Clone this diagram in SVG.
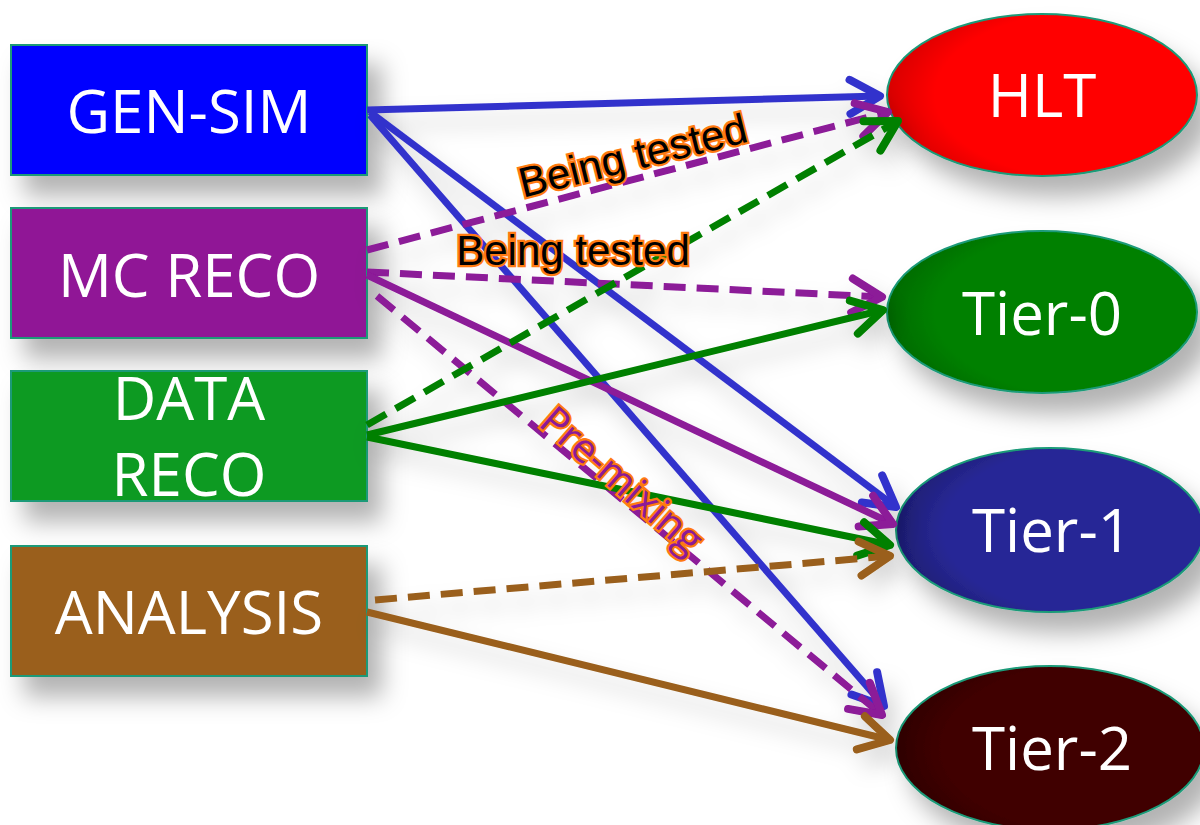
<svg xmlns="http://www.w3.org/2000/svg" width="1200" height="825" viewBox="0 0 1200 825">
  <defs>
    <style>
      .box { stroke: #1a9a78; stroke-width: 2; }
      .oval { stroke: #1a9a78; stroke-width: 2; }
      .lbl { font-family: "Open Sans", "Noto Sans", sans-serif; font-size: 60px; fill: #ffffff; text-anchor: middle; }
      .edge { fill: none; stroke-width: 7; }
      .dash { stroke-dasharray: 22 11; }
      .blue { stroke: #3333cc; }
      .purple { stroke: #8c1a98; }
      .green { stroke: #008000; }
      .brown { stroke: #9a5f1c; }
      .note { font-family: "Liberation Sans", Arial, sans-serif; font-size: 42px; fill: #000000; stroke: #ff7a10; stroke-width: 4.5; paint-order: stroke; text-anchor: middle; }
      .mix { font-family: "Open Sans", "Noto Sans", sans-serif; font-size: 40px; fill: #8c1a98; stroke: #ff7a10; stroke-width: 4.5; paint-order: stroke; text-anchor: middle; }
    </style>
    <filter id="shadow" x="-20%" y="-20%" width="150%" height="170%">
      <feGaussianBlur in="SourceAlpha" stdDeviation="12"/>
      <feOffset dx="14" dy="20" result="b"/>
      <feFlood flood-color="#000" flood-opacity="0.3"/>
      <feComposite in2="b" operator="in"/>
      <feMerge><feMergeNode/><feMergeNode in="SourceGraphic"/></feMerge>
    </filter>
    <filter id="lineshadow" x="-10%" y="-10%" width="120%" height="130%">
      <feGaussianBlur in="SourceAlpha" stdDeviation="11"/>
      <feOffset dx="8" dy="14" result="b"/>
      <feFlood flood-color="#000" flood-opacity="0.18"/>
      <feComposite in2="b" operator="in"/>
      <feMerge><feMergeNode/><feMergeNode in="SourceGraphic"/></feMerge>
    </filter>
    <!-- ellipse fills darken towards the left rim -->
    <radialGradient id="gRed" cx="0.68" cy="0.5" r="0.7">
      <stop offset="0.75" stop-color="#ff0000"/><stop offset="1" stop-color="#d40000"/>
    </radialGradient>
    <radialGradient id="gGreen" cx="0.68" cy="0.5" r="0.7">
      <stop offset="0.75" stop-color="#008000"/><stop offset="1" stop-color="#006800"/>
    </radialGradient>
    <radialGradient id="gNavy" cx="0.68" cy="0.5" r="0.7">
      <stop offset="0.75" stop-color="#282896"/><stop offset="1" stop-color="#1c1c70"/>
    </radialGradient>
    <radialGradient id="gMaroon" cx="0.68" cy="0.5" r="0.7">
      <stop offset="0.75" stop-color="#400000"/><stop offset="1" stop-color="#2e0000"/>
    </radialGradient>
    <marker id="aBlue" markerUnits="userSpaceOnUse" viewBox="-40 -25 48 50" refX="0" refY="0" markerWidth="48" markerHeight="50" orient="auto">
      <path d="M-30,-17 L0,0 L-30,17" fill="none" stroke="#3333cc" stroke-width="8" stroke-linecap="round" stroke-linejoin="round"/>
    </marker>
    <marker id="aPurple" markerUnits="userSpaceOnUse" viewBox="-40 -25 48 50" refX="0" refY="0" markerWidth="48" markerHeight="50" orient="auto">
      <path d="M-30,-17 L0,0 L-30,17" fill="none" stroke="#8c1a98" stroke-width="8" stroke-linecap="round" stroke-linejoin="round"/>
    </marker>
    <marker id="aGreen" markerUnits="userSpaceOnUse" viewBox="-40 -25 48 50" refX="0" refY="0" markerWidth="48" markerHeight="50" orient="auto">
      <path d="M-30,-17 L0,0 L-30,17" fill="none" stroke="#008000" stroke-width="8" stroke-linecap="round" stroke-linejoin="round"/>
    </marker>
    <marker id="aBrown" markerUnits="userSpaceOnUse" viewBox="-40 -25 48 50" refX="0" refY="0" markerWidth="48" markerHeight="50" orient="auto">
      <path d="M-30,-17 L0,0 L-30,17" fill="none" stroke="#9a5f1c" stroke-width="8" stroke-linecap="round" stroke-linejoin="round"/>
    </marker>
  </defs>

  <rect width="1200" height="825" fill="#ffffff"/>

  <!-- source boxes -->
  <g id="gen-sim" filter="url(#shadow)">
    <rect class="box" x="11" y="45" width="356" height="130" fill="#0000ff"/>
    <text class="lbl" x="189" y="133">GEN-SIM</text>
  </g>
  <g id="mc-reco" filter="url(#shadow)">
    <rect class="box" x="11" y="208" width="356" height="130" fill="#901896"/>
    <text class="lbl" x="189" y="297">MC RECO</text>
  </g>
  <g id="data-reco" filter="url(#shadow)">
    <rect class="box" x="11" y="371" width="356" height="130" fill="#109a22"/>
    <text class="lbl" x="189" y="420">DATA</text>
    <text class="lbl" x="189" y="496">RECO</text>
  </g>
  <g id="analysis" filter="url(#shadow)">
    <rect class="box" x="11" y="546" width="356" height="130" fill="#9a5f1c"/>
    <text class="lbl" x="189" y="634">ANALYSIS</text>
  </g>

  <!-- computing sites -->
  <g id="hlt" filter="url(#shadow)">
    <ellipse class="oval" cx="1042" cy="95" rx="155" ry="81" fill="url(#gRed)"/>
    <text class="lbl" x="1042" y="117">HLT</text>
  </g>
  <g id="tier-0" filter="url(#shadow)">
    <ellipse class="oval" cx="1042" cy="312" rx="155" ry="81" fill="url(#gGreen)"/>
    <text class="lbl" x="1042" y="335">Tier-0</text>
  </g>
  <g id="tier-1" filter="url(#shadow)">
    <ellipse class="oval" cx="1050" cy="530" rx="154" ry="82" fill="url(#gNavy)"/>
    <text class="lbl" x="1052" y="552">Tier-1</text>
  </g>
  <g id="tier-2" filter="url(#shadow)">
    <ellipse class="oval" cx="1050" cy="748" rx="154" ry="82" fill="url(#gMaroon)"/>
    <text class="lbl" x="1052" y="770">Tier-2</text>
  </g>

  <!-- workflow connectors -->
  <g id="connectors" filter="url(#lineshadow)">
    <line class="edge blue" x1="367" y1="110" x2="880" y2="96" marker-end="url(#aBlue)"/>
    <line class="edge blue" x1="370" y1="112" x2="896" y2="507" marker-end="url(#aBlue)"/>
    <line class="edge blue" x1="370" y1="115" x2="884" y2="706" marker-end="url(#aBlue)"/>

    <line class="edge purple dash" x1="367" y1="250" x2="888" y2="112" marker-end="url(#aPurple)"/>
    <line class="edge purple dash" x1="367" y1="272" x2="882" y2="297" marker-end="url(#aPurple)"/>
    <line class="edge purple" x1="367" y1="275" x2="893" y2="524" marker-end="url(#aPurple)"/>
    <line class="edge purple dash" x1="377" y1="296" x2="882" y2="715" marker-end="url(#aPurple)"/>

    <line class="edge green dash" x1="367" y1="425" x2="898" y2="121" marker-end="url(#aGreen)"/>
    <line class="edge green" x1="367" y1="435" x2="883" y2="310" marker-end="url(#aGreen)"/>
    <line class="edge green" x1="367" y1="437" x2="890" y2="545" marker-end="url(#aGreen)"/>

    <line class="edge brown dash" x1="375" y1="600" x2="890" y2="556" marker-end="url(#aBrown)"/>
    <line class="edge brown" x1="367" y1="612" x2="890" y2="740" marker-end="url(#aBrown)"/>
  </g>

  <!-- connector labels -->
  <g id="labels">
    <text class="note" x="633" y="170" transform="rotate(-14 633 156)">Being tested</text>
    <text class="note" x="573" y="265">Being tested</text>
    <text class="mix" x="622" y="494" transform="rotate(41 622 480)">Pre-mixing</text>
  </g>
</svg>
